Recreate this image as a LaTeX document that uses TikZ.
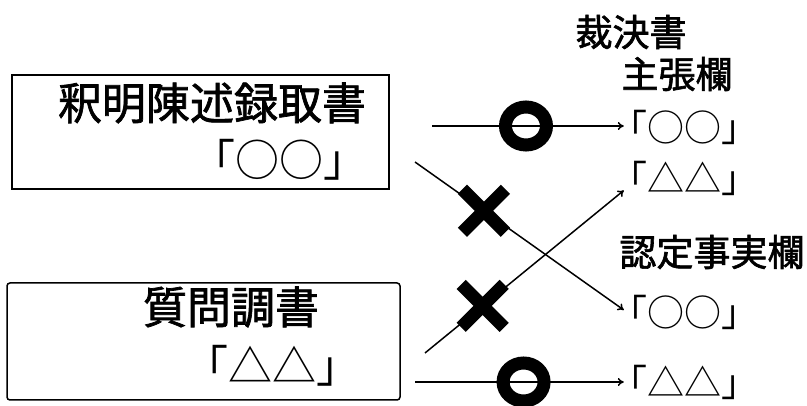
\documentclass[tikz,border=0pt]{standalone}
\usepackage{fontspec}
\newfontfamily\jp{Noto Sans CJK JP}
\newfontfamily\jpheavy{Noto Sans CJK JP}[FakeBold=1.6]
\usetikzlibrary{arrows.meta, positioning, shapes.geometric, shapes.misc}

\begin{document}
\begin{tikzpicture}[x=1pt, y=1pt,
		every node/.style={inner sep=0pt, font=\jp},
		big/.style={font=\jpheavy\fontsize{44}{48}\selectfont},
		bigmark/.style={font=\jp\fontsize{44}{48}\selectfont},
		small/.style={font=\jpheavy\fontsize{37}{40}\selectfont},
		smallmark/.style={font=\jp\fontsize{37}{40}\selectfont},
		docbox/.style={draw, line width=1.5pt},
		ok/.style={ellipse, draw, line width=13pt, minimum width=41pt, minimum height=38pt},
		ng/.style={cross out, draw, line width=13pt, minimum size=30pt},
		link/.style={-{To[length=6pt, width=8pt]}, line width=1.5pt}]
	\useasboundingbox (0,0) rectangle (807,-406);
	\node (b1) [docbox, minimum width=377pt, minimum height=114pt] at (200.5,-132) {};
	\node (b2) [docbox, rounded corners=3pt, minimum width=393pt, minimum height=117pt] at (203.5,-341.5) {};
	\node (t1) [big] at (212,-103) {釈明陳述録取書};
	\node (t2) [bigmark] at (279,-160) {「○○」};
	\node (t3) [big] at (231,-307) {質問調書};
	\node (t4) [bigmark] at (272,-366) {「△△」};
	\node (h0) [small] at (631,-32) {裁決書};
	\node (h1) [small] at (677,-74) {主張欄};
	\node (r1) [smallmark] at (684,-127) {「○○」};
	\node (r2) [smallmark] at (684,-178) {「△△」};
	\node (h2) [small] at (712,-252) {認定事実欄};
	\node (r3) [smallmark] at (684,-312) {「○○」};
	\node (r4) [smallmark] at (684,-382) {「△△」};
	\coordinate (s1) at (432,-126);
	\coordinate (s2) at (415,-162);
	\coordinate (s3) at (425,-353);
	\coordinate (s4) at (415,-382);
	\draw [link] (s1) -- node [ok, pos=0.49] (o1) {} ([xshift=14pt, yshift=1pt]r1.west);
	\draw [link] (s2) -- node [ng, pos=0.33] (x1) {} ([xshift=14pt, yshift=2pt]r3.west);
	\draw [link] (s3) -- node [ng, pos=0.29] (x2) {} ([xshift=14pt, yshift=5pt]r2.south west);
	\draw [link] (s4) -- node [ok, pos=0.52] (o2) {} ([xshift=14pt]r4.west);
\end{tikzpicture}
\end{document}
